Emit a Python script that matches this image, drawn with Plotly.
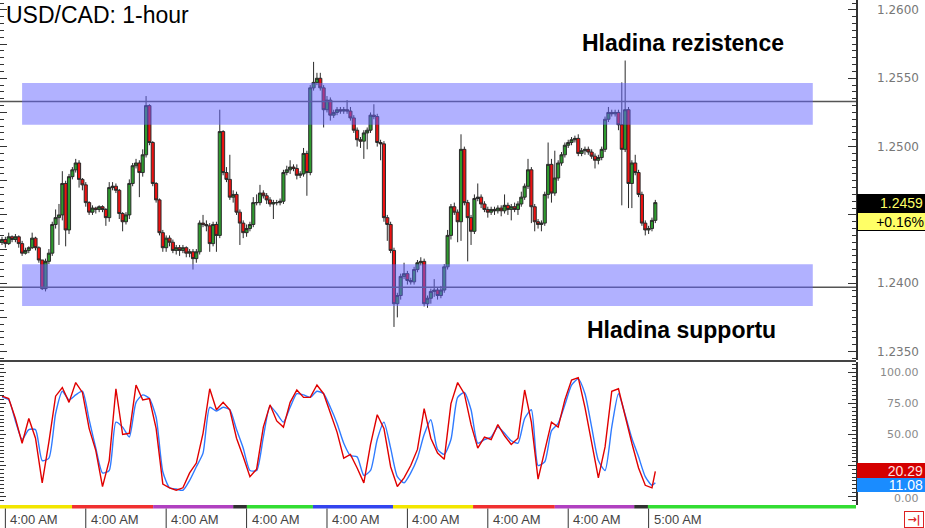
import plotly.graph_objects as go

W, H = 925, 528


def px(x):
    return x / W


def py(y):
    return 1 - y / H


# ---------------- data ----------------
first_open = 1.2430
closes = [
    1.2432, 1.2429, 1.2434, 1.2432, 1.2434, 1.2429, 1.2422, 1.2424, 1.2426, 1.2433,
    1.2426, 1.2417, 1.2396, 1.2416, 1.2422, 1.2443, 1.2448, 1.2450, 1.2473, 1.2439,
    1.2478, 1.2483, 1.2488, 1.2476, 1.2472, 1.2459, 1.2452, 1.2455, 1.2454, 1.2456,
    1.2454, 1.2448, 1.2470, 1.2471, 1.2468, 1.2451, 1.2445, 1.2450, 1.2473, 1.2486,
    1.2488, 1.2481, 1.2494, 1.2530, 1.2503, 1.2473, 1.2461, 1.2437, 1.2426, 1.2433,
    1.2430, 1.2424, 1.2426, 1.2424, 1.2426, 1.2422, 1.2423, 1.2418, 1.2423, 1.2444,
    1.2443, 1.2442, 1.2429, 1.2443, 1.2435, 1.2511, 1.2481, 1.2476, 1.2463, 1.2465,
    1.2452, 1.2444, 1.2437, 1.2440, 1.2443, 1.2459, 1.2459, 1.2466, 1.2464, 1.2461,
    1.2458, 1.2459, 1.2459, 1.2460, 1.2481, 1.2483, 1.2485, 1.2484, 1.2479, 1.2480,
    1.2495, 1.2481, 1.2543, 1.2547, 1.2550, 1.2543, 1.2527, 1.2534, 1.2523, 1.2525,
    1.2527, 1.2526, 1.2527, 1.2526, 1.2521, 1.2512, 1.2505, 1.2504, 1.2510, 1.2512,
    1.2523, 1.2522, 1.2503, 1.2502, 1.2448, 1.2443, 1.2424, 1.2385, 1.2391, 1.2405,
    1.2407, 1.2402, 1.2401, 1.2410, 1.2415, 1.2416, 1.2385, 1.2389, 1.2394, 1.2395,
    1.2391, 1.2395, 1.2412, 1.2435, 1.2456, 1.2452, 1.2445, 1.2498, 1.2459, 1.2448,
    1.2438, 1.2462, 1.2463, 1.2458, 1.2454, 1.2452, 1.2454, 1.2453, 1.2455, 1.2453,
    1.2457, 1.2454, 1.2456, 1.2454, 1.2458, 1.2463, 1.2471, 1.2483, 1.2456, 1.2445,
    1.2443, 1.2444, 1.2465, 1.2487, 1.2466, 1.2477, 1.2488, 1.2494, 1.2501, 1.2503,
    1.2505, 1.2506, 1.2495, 1.2497, 1.2498, 1.2496, 1.2493, 1.2490, 1.2492, 1.2498,
    1.2520, 1.2525, 1.2524, 1.2525, 1.2516, 1.2498, 1.2527, 1.2473, 1.2488, 1.2481,
    1.2465, 1.2444, 1.2439, 1.2440, 1.2446, 1.2459,
]
upper_wick_pips = [
    2, 2, 3, 1, 2, 1, 2, 2, 1, 4,
    1, 1, 0, 2, 3, 2, 6, 8, 9, 2,
    2, 2, 3, 2, 1, 2, 1, 2, 1, 1,
    1, 1, 4, 3, 2, 1, 1, 2, 3, 2,
    3, 2, 4, 7, 1, 1, 1, 1, 2, 2,
    2, 2, 2, 2, 2, 1, 2, 2, 2, 2,
    6, 3, 2, 2, 2, 16, 1, 4, 18, 3,
    2, 2, 2, 3, 2, 4, 6, 6, 2, 2,
    2, 2, 2, 2, 2, 3, 5, 2, 3, 2,
    4, 2, 2, 15, 4, 4, 2, 3, 2, 2,
    2, 2, 2, 7, 3, 2, 2, 2, 2, 2,
    2, 8, 2, 2, 2, 2, 2, 2, 2, 2,
    8, 2, 2, 2, 2, 3, 2, 2, 2, 8,
    2, 3, 2, 4, 2, 3, 2, 11, 2, 2,
    2, 3, 10, 2, 2, 2, 2, 2, 2, 2,
    8, 2, 2, 3, 2, 4, 2, 8, 2, 2,
    2, 2, 2, 16, 4, 20, 2, 2, 2, 2,
    2, 2, 3, 2, 2, 2, 2, 2, 2, 2,
    2, 4, 2, 2, 2, 31, 36, 2, 2, 6,
    2, 2, 2, 2, 2, 2,
]
lower_wick_pips = [
    2, 3, 1, 2, 2, 3, 2, 1, 2, 1,
    2, 2, 1, 2, 2, 2, 3, 20, 4, 12,
    3, 2, 2, 6, 4, 3, 2, 2, 3, 2,
    2, 6, 3, 2, 2, 4, 7, 2, 3, 2,
    2, 18, 3, 2, 2, 2, 2, 2, 3, 3,
    3, 2, 3, 4, 2, 3, 3, 8, 3, 2,
    2, 4, 6, 2, 12, 2, 2, 2, 2, 4,
    2, 16, 4, 3, 2, 2, 2, 2, 2, 3,
    2, 11, 2, 2, 2, 2, 3, 2, 3, 2,
    2, 17, 2, 2, 2, 2, 13, 2, 4, 2,
    2, 2, 2, 2, 2, 2, 5, 5, 13, 12,
    2, 2, 3, 12, 3, 12, 2, 17, 10, 3,
    2, 3, 2, 2, 2, 2, 2, 3, 4, 4,
    3, 2, 2, 2, 3, 2, 15, 14, 2, 32,
    10, 2, 2, 3, 2, 4, 2, 3, 2, 4,
    2, 4, 8, 2, 4, 2, 2, 2, 12, 7,
    3, 5, 2, 3, 7, 2, 2, 2, 2, 2,
    2, 2, 2, 2, 3, 2, 2, 6, 3, 2,
    2, 2, 2, 2, 4, 41, 2, 18, 18, 2,
    2, 2, 4, 3, 2, 2,
]

stoch_k = [
    81, 79, 63, 43, 63, 47, 11, 44, 81, 88,
    76, 92, 84, 55, 37, 8, 29, 87, 50, 51,
    90, 78, 79, 55, 10, 7, 5, 7, 19, 27,
    51, 87, 70, 76, 70, 47, 32, 16, 22, 56,
    74, 61, 56, 76, 86, 80, 80, 90, 83, 67,
    52, 31, 34, 23, 11, 42, 66, 55, 24, 8,
    15, 25, 38, 71, 47, 35, 30, 75, 92, 83,
    58, 39, 48, 46, 58, 49, 42, 47, 86, 60,
    14, 37, 60, 56, 78, 94, 96, 72, 44, 15,
    40, 85, 87, 64, 43, 23, 9, 7, 20.29,
]
stoch_d = [
    80, 78, 61, 46, 54, 54, 29, 31, 67, 85,
    78, 82, 85, 62, 39, 19, 21, 60, 56, 48,
    76, 82, 79, 64, 20, 7, 6, 5, 13, 24,
    35, 72, 69, 72, 70, 54, 39, 21, 21, 48,
    73, 67, 60, 72, 83, 82, 80, 85, 83, 72,
    59, 43, 33, 32, 17, 21, 46, 60, 39, 16,
    11, 19, 31, 50, 62, 38, 34, 46, 80, 84,
    70, 43, 46, 48, 56, 51, 45, 43, 63, 70,
    25, 28, 53, 59, 74, 90, 95, 83, 56, 29,
    21, 56, 83, 66, 47, 32, 16, 9, 11.08,
]

# visible right-axis labels (1.2450 and 25.00 sit behind the value boxes)
price_ticks = [1.2350, 1.2400, 1.2500, 1.2550, 1.2600]
price_tick_labels = ["1.2350", "1.2400", "1.2500", "1.2550", "1.2600"]
stoch_ticks = [0, 50, 75, 100]
stoch_tick_labels = ["0.00", "50.00", "75.00", "100.00"]

time_tick_idx = [1, 25, 49, 73, 97, 121, 145, 169, 193]
time_labels = ["4:00 AM"] * 8 + ["5:00 AM"]

session_edges = [-0.6, 20.9, 45.1, 69.0, 73.1, 92.8, 116.7, 140.6, 165.0, 188.7, 192.8, 254.9]
session_colors = ["#f2e600", "#f03030", "#b040c0", "#303030", "#33dd33", "#3344ee",
                  "#f2e600", "#f03030", "#b040c0", "#303030", "#33dd33"]

resistance_level = 1.2533
support_level = 1.2397
resistance_band = (1.2516, 1.25465)
support_band = (1.23833, 1.24138)
band_start_idx, band_end_idx = 6, 242

last_price = "1.2459"
pct_change = "+0.16%"
last_k = "20.29"
last_d = "11.08"

# ---------------- derived OHLC ----------------
idx = list(range(len(closes)))
opens = [first_open] + closes[:-1]
highs = [max(o, c) + u * 0.0001 for o, c, u in zip(opens, closes, upper_wick_pips)]
lows = [min(o, c) - d * 0.0001 for o, c, d in zip(opens, closes, lower_wick_pips)]
stoch_idx = list(range(0, len(closes) - 1, 2)) + [len(closes) - 1]

X_RANGE = [-0.6, 254.9]
P_RANGE = [1.23438, 1.26073]
S_RANGE = [-6.9, 108.6]

fig = go.Figure()
fig.add_trace(go.Candlestick(
    x=idx, open=opens, high=highs, low=lows, close=closes,
    increasing=dict(fillcolor="#2e9b2e", line=dict(color="#2a2a2a", width=1)),
    decreasing=dict(fillcolor="#ee1111", line=dict(color="#2a2a2a", width=1)),
    whiskerwidth=0, hoverinfo="skip", showlegend=False,
    xaxis="x", yaxis="y",
))
fig.add_trace(go.Scatter(x=stoch_idx, y=stoch_d, mode="lines",
                         line=dict(color="#2f7bff", width=1.4, shape="spline", smoothing=0.6),
                         xaxis="x2", yaxis="y2", showlegend=False, hoverinfo="skip"))
fig.add_trace(go.Scatter(x=stoch_idx, y=stoch_k, mode="lines",
                         line=dict(color="#e00000", width=1.4),
                         xaxis="x2", yaxis="y2", showlegend=False, hoverinfo="skip"))

shapes = []
for lvl in (resistance_level, support_level):
    shapes.append(dict(type="line", xref="paper", yref="y", x0=0, x1=px(856), y0=lvl, y1=lvl,
                       line=dict(color="#555555", width=1.5), layer="above"))
for lo, hi in (resistance_band, support_band):
    shapes.append(dict(type="rect", xref="x", yref="y", x0=band_start_idx, x1=band_end_idx,
                       y0=lo, y1=hi, fillcolor="rgba(100,100,255,0.5)",
                       line=dict(width=0), layer="above"))
shapes.append(dict(type="line", xref="paper", yref="paper", x0=0, x1=px(856),
                   y0=py(361), y1=py(361), line=dict(color="#444444", width=2)))
for i, col in enumerate(session_colors):
    shapes.append(dict(type="rect", xref="x2", yref="paper",
                       x0=session_edges[i], x1=session_edges[i + 1],
                       y0=py(508.5), y1=py(505), fillcolor=col, line=dict(width=0)))
for t in time_tick_idx:
    shapes.append(dict(type="line", xref="x2", yref="paper", x0=t, x1=t,
                       y0=py(528), y1=py(508.5), line=dict(color="#333333", width=1)))

annotations = []
for t, lab in zip(time_tick_idx, time_labels):
    annotations.append(dict(x=t, xref="x2", xshift=3, y=py(519), yref="paper",
                            text=lab, showarrow=False, xanchor="left", yanchor="middle",
                            font=dict(family="Arial, Liberation Sans", size=13, color="#444444")))
for v, lab in zip(price_ticks, price_tick_labels):
    annotations.append(dict(x=px(921), xref="paper", y=v, yref="y", text=lab,
                            showarrow=False, xanchor="right", yanchor="middle",
                            font=dict(family="DejaVu Sans", size=12, color="#777777")))
for v, lab in zip(stoch_ticks, stoch_tick_labels):
    annotations.append(dict(x=px(921), xref="paper", y=v, yref="y2", text=lab,
                            showarrow=False, xanchor="right", yanchor="middle",
                            yshift=-2 if v == 0 else 0,
                            font=dict(family="DejaVu Sans", size=11, color="#8a8a8a")))


def box(y_top, h, text, bg, fg, border=None, size=14):
    return dict(x=px(857), xref="paper", y=py(y_top), yref="paper", xanchor="left",
                yanchor="top", width=W - 857 - 4, height=h, align="right", valign="middle",
                text=text, showarrow=False, bgcolor=bg, borderpad=2,
                bordercolor=border if border else bg, borderwidth=1 if border else 0,
                font=dict(family="Arial, Liberation Sans", size=size, color=fg))


annotations.append(box(194, 14, last_price, "#000000", "#ffff66"))
annotations.append(box(212, 13, pct_change, "#ffff66", "#000000", border="#000000"))
annotations.append(box(463, 11, last_k, "#d40000", "#ffe0e0"))
annotations.append(box(478, 10, last_d, "#1a8cff", "#ffffff"))

annotations.append(dict(x=px(4), xref="paper", y=py(15), yref="paper", text="USD/CAD: 1-hour",
                        showarrow=False, xanchor="left", yanchor="middle",
                        font=dict(family="Arial, Liberation Sans", size=23, color="#000000")))
annotations.append(dict(x=px(683), xref="paper", y=py(43), yref="paper", text="<b>Hladina rezistence</b>",
                        showarrow=False, xanchor="center", yanchor="middle",
                        font=dict(family="Arial, Liberation Sans", size=23, color="#000000")))
annotations.append(dict(x=px(681), xref="paper", y=py(330), yref="paper", text="<b>Hladina supportu</b>",
                        showarrow=False, xanchor="center", yanchor="middle",
                        font=dict(family="Arial, Liberation Sans", size=23, color="#000000")))
annotations.append(dict(x=px(904), xref="paper", y=py(511), yref="paper", xanchor="left",
                        yanchor="top", width=16, height=13, text="<b>→|</b>", showarrow=False,
                        bgcolor="#ffffff", bordercolor="#dd2222", borderwidth=1, borderpad=1,
                        font=dict(family="DejaVu Sans", size=11, color="#dd2222")))

fig.update_layout(
    width=W, height=H, margin=dict(l=0, r=0, t=0, b=0),
    paper_bgcolor="#ffffff", plot_bgcolor="#ffffff",
    showlegend=False, boxgap=0.08, boxgroupgap=0,
    xaxis=dict(domain=[0, px(856)], range=X_RANGE, visible=False, anchor="y",
               rangeslider=dict(visible=False), fixedrange=True),
    xaxis2=dict(domain=[0, px(856)], range=X_RANGE, visible=False, anchor="y2",
                matches="x", fixedrange=True),
    yaxis=dict(domain=[py(360), 1], range=P_RANGE, side="right", anchor="x",
               showgrid=False, zeroline=False, showticklabels=False,
               showline=True, linecolor="#333333", linewidth=1.5,
               ticks="inside", ticklen=8, tickcolor="#333333", tick0=1.2350, dtick=0.005,
               minor=dict(ticks="inside", ticklen=4, tickcolor="#333333", dtick=0.0005),
               fixedrange=True),
    yaxis3=dict(overlaying="y", range=P_RANGE, side="left", anchor="x",
                showgrid=False, zeroline=False, showticklabels=False, showline=False,
                ticks="inside", ticklen=7, tickcolor="#333333", tick0=1.2350, dtick=0.0025,
                minor=dict(ticks="inside", ticklen=4, tickcolor="#333333", dtick=0.0005),
                fixedrange=True),
    yaxis2=dict(domain=[py(505), py(362)], range=S_RANGE, side="right", anchor="x2",
                showgrid=False, zeroline=False, showticklabels=False,
                showline=True, linecolor="#333333", linewidth=1.5,
                ticks="inside", ticklen=8, tickcolor="#333333", tick0=0, dtick=25,
                minor=dict(ticks="inside", ticklen=4, tickcolor="#333333", dtick=3.125),
                fixedrange=True),
    yaxis4=dict(overlaying="y2", range=S_RANGE, side="left", anchor="x2",
                showgrid=False, zeroline=False, showticklabels=False, showline=False,
                ticks="inside", ticklen=6, tickcolor="#333333", tick0=0, dtick=25,
                minor=dict(ticks="inside", ticklen=4, tickcolor="#333333", dtick=3.125),
                fixedrange=True),
    shapes=shapes, annotations=annotations,
)
fig.add_trace(go.Scatter(x=[None], y=[None], xaxis="x", yaxis="y3", showlegend=False, hoverinfo="skip"))
fig.add_trace(go.Scatter(x=[None], y=[None], xaxis="x2", yaxis="y4", showlegend=False, hoverinfo="skip"))

fig.write_html("out.html", config={"displayModeBar": False, "staticPlot": True},
               post_script="document.body.style.margin='0';document.body.style.overflow='hidden';")
